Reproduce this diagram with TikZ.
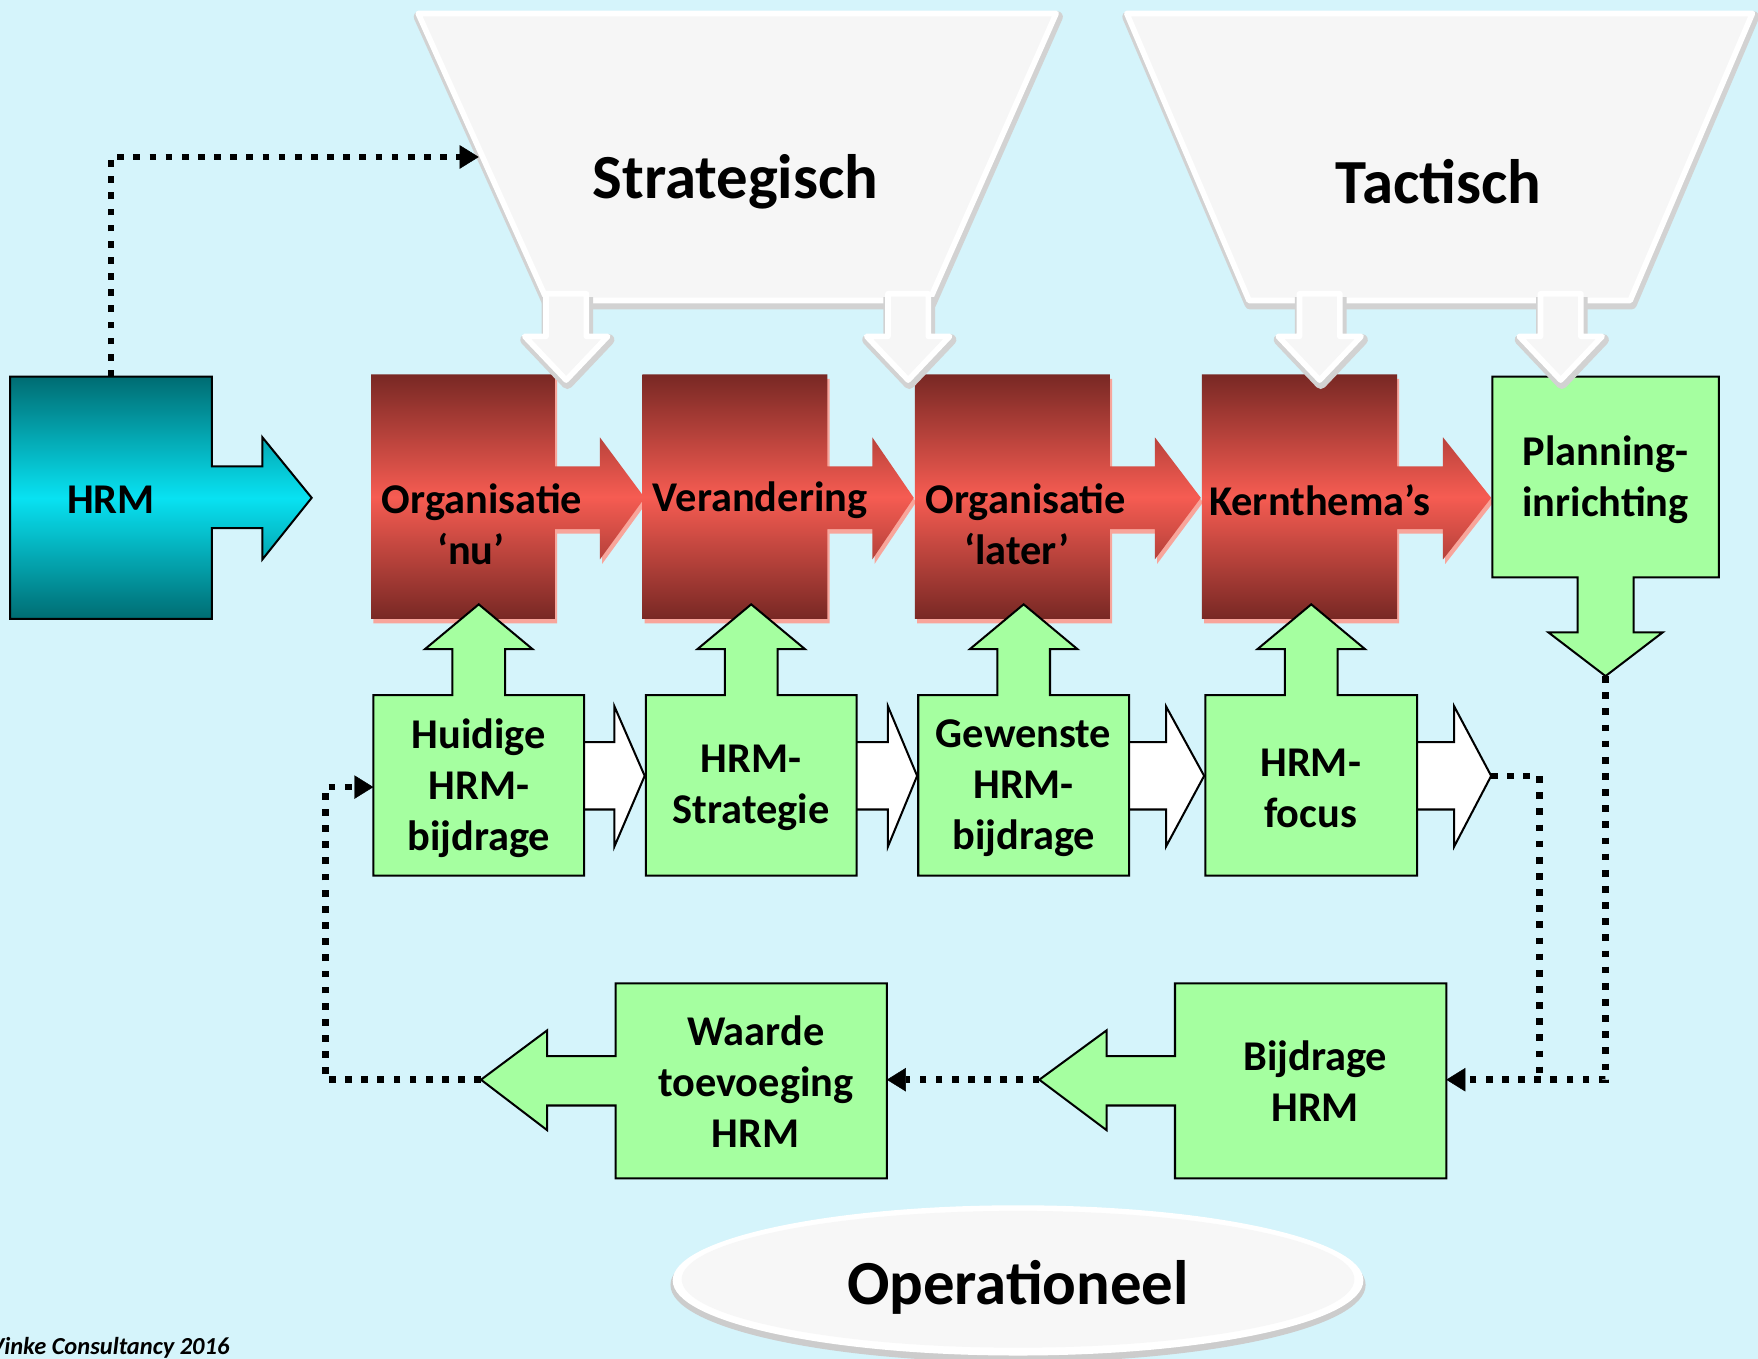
\documentclass[tikz,border=0pt]{standalone}
\usepackage{fontspec}
\setmainfont{Carlito}
\usetikzlibrary{arrows.meta}
\definecolor{bg}{RGB}{213,244,251}
\definecolor{reddark}{RGB}{120,40,36}
\definecolor{redlight}{RGB}{246,92,82}
\definecolor{redshadow}{RGB}{248,165,155}
\definecolor{tealdark}{RGB}{0,108,114}
\definecolor{teallight}{RGB}{8,226,242}
\definecolor{lgreen}{RGB}{165,255,160}
\definecolor{trapfill}{RGB}{246,246,246}
\tikzset{
 redshape/.style={top color=reddark,bottom color=reddark,middle color=redlight},
 redshad/.style={fill=redshadow},
 tealshape/.style={top color=tealdark,bottom color=tealdark,middle color=teallight,draw=black,line width=0.9pt},
 greenshape/.style={fill=lgreen,draw=black,line width=0.9pt},
 whitearrow/.style={fill=white,draw=black,line width=0.9pt},
 lbl/.style={font=\fontsize{18.9}{22.75}\selectfont\bfseries,align=center,inner sep=0pt},
 ttl/.style={font=\fontsize{28}{33}\selectfont\bfseries,inner sep=0pt},
 dotline/.style={line width=3pt,dash pattern=on 3pt off 4.2pt,black},
 arrtip/.style={-{Triangle[length=8.5pt,width=10.5pt,line width=0.2pt]}},
 trap/.style={fill=trapfill,draw=white,line width=2.5pt,line join=round},
 trapshadow/.style={draw=gray!35,line width=5pt,line join=round},
}
\begin{document}
\begin{tikzpicture}[x=0.5pt,y=-0.5pt]
\fill[bg] (0,0) rectangle (1568,1212);
\useasboundingbox (0,0) rectangle (1568,1212);

% HRM shape
\path[tealshape] (9,336) -- (189,336) -- (189,416) -- (234,416) -- (234,390) -- (278,444) -- (234,499) -- (234,471) -- (189,471) -- (189,552) -- (9,552) -- cycle;

% red shapes
\foreach \a/\b/\c/\d in {331/495/535/575, 573/738/778/815, 816/990/1030/1071, 1072/1246/1287/1330}{
  \path[redshad,shift={(2,4)}] (\a,334) -- (\b,334) -- (\b,416) -- (\c,416) -- (\c,390) -- (\d,444) -- (\c,499) -- (\c,472) -- (\b,472) -- (\b,552) -- (\a,552) -- cycle;
  \path[redshape] (\a,334) -- (\b,334) -- (\b,416) -- (\c,416) -- (\c,390) -- (\d,444) -- (\c,499) -- (\c,472) -- (\b,472) -- (\b,552) -- (\a,552) -- cycle;
}

% Planning shape
\path[greenshape] (1331,336) -- (1533,336) -- (1533,515) -- (1457,515) -- (1457,564) -- (1483,564) -- (1432,603) -- (1381,564) -- (1407,564) -- (1407,515) -- (1331,515) -- cycle;

% trapezoids
\foreach \p/\q/\r/\s in {373/942/829/488, 1005/1563/1454/1114}{
  \path[trapshadow,shift={(1,3)}] (\p,12) -- (\q,12) -- (\r,268) -- (\s,268) -- cycle;
  \path[trap] (\p,12) -- (\q,12) -- (\r,268) -- (\s,268) -- cycle;
}
\foreach \c in {505,810,1177,1392}{
  \path[trapshadow,shift={(1,3)}] (\c-18,262) -- (\c-18,300) -- (\c-37,300) -- (\c,339) -- (\c+37,300) -- (\c+18,300) -- (\c+18,262);
  \path[trap] (\c-18,262) -- (\c-18,300) -- (\c-37,300) -- (\c,339) -- (\c+37,300) -- (\c+18,300) -- (\c+18,262) -- cycle;
}

% middle row: white arrows then green boxes
\foreach \a/\b/\m/\h/\t in {333/521/427/548/575, 576/764/670/792/818, 819/1007/913/1040/1074, 1075/1264/1169.5/1297/1330}{
  \path[whitearrow] (\b-3,662) -- (\h,662) -- (\h,630) -- (\t,692) -- (\h,755) -- (\h,722) -- (\b-3,722) -- cycle;
  \path[greenshape] (\a,620) -- (\m-23.5,620) -- (\m-23.5,579) -- (\m-48,579) -- (\m,539) -- (\m+48,579) -- (\m+23.5,579) -- (\m+23.5,620) -- (\b,620) -- (\b,781) -- (\a,781) -- cycle;
}

% bottom row
\foreach \a/\b/\h/\t in {549/791/488/429, 1048/1290/987/927}{
  \path[greenshape] (\a,877) -- (\b,877) -- (\b,1051) -- (\a,1051) -- (\a,986) -- (\h,986) -- (\h,1008) -- (\t,963) -- (\h,919) -- (\h,942) -- (\a,942) -- cycle;
}

% ellipse
\fill[gray!40] (908,1146) ellipse [x radius=155pt, y radius=34.5pt];
\fill[white] (908,1142) ellipse [x radius=154pt, y radius=33.5pt];
\fill[gray!6] (908,1141) ellipse [x radius=150pt, y radius=30.5pt];

% coordinates for connectors
\coordinate (hrmtop) at (99,336);
\coordinate (stratin) at (427,140);
\coordinate (g4tip) at (1330,692);
\coordinate (junc) at (1373,963);
\coordinate (plantip) at (1432,603);
\coordinate (bijR) at (1290,963);
\coordinate (bijtip) at (927,963);
\coordinate (waaR) at (791,963);
\coordinate (waatip) at (429,963);
\coordinate (lc) at (290,963);
\coordinate (g1L) at (333,702);

\draw[dotline,arrtip] (hrmtop) |- (stratin);
\draw[dotline] (g4tip) -| (junc);
\draw[dotline,arrtip] (plantip) |- (bijR);
\draw[dotline,arrtip] (bijtip) -- (waaR);
\draw[dotline,arrtip] (waatip) -- (lc) |- (g1L);

% texts
\node[ttl] (strat) at (656,162) {Strategisch};
\node[ttl] (tact) at (1283,162) {Tactisch};
\node[ttl] (oper) at (908,1148) {Operationeel};
\node[lbl] (hrm) at (99,446) {HRM};
\node[lbl] (orgnu) at (430,468) {Organisatie\\‘nu’\hspace*{10pt}};
\node[lbl] (ver) at (678,446) {Verandering};
\node[lbl] (orglater) at (915,468) {Organisatie\\‘later’\hspace*{8pt}};
\node[lbl] (kern) at (1177,446) {Kernthema’s};
\node[lbl] (plan) at (1432,428) {Planning-\\inrichting};
\node[lbl] (huid) at (427,703) {Huidige\\HRM-\\bijdrage};
\node[lbl] (hrmstr) at (670,703) {HRM-\\Strategie};
\node[lbl] (gew) at (913,703) {Gewenste\\HRM-\\bijdrage};
\node[lbl] (focus) at (1169,703) {HRM-\\focus};
\node[lbl] (waarde) at (674,965) {Waarde\\toevoeging\\HRM};
\node[lbl] (bijdr) at (1173,964) {Bijdrage\\HRM};
\node[anchor=east,inner sep=0pt,font=\fontsize{10.9}{13}\selectfont\bfseries\itshape] (credit) at (205,1202) {Vinke Consultancy 2016};
\end{tikzpicture}
\end{document}
